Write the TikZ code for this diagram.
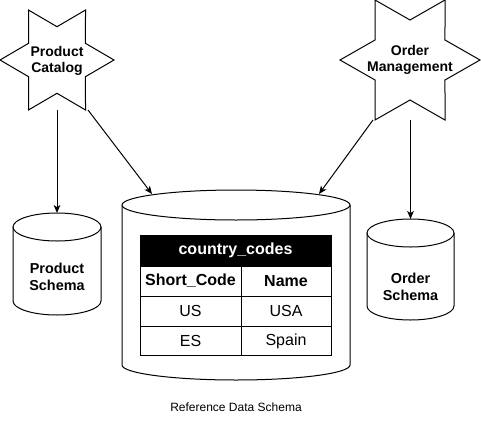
\documentclass[tikz,border=0pt]{standalone}
\usepackage{fontspec}
\setmainfont{Liberation Sans}
\usetikzlibrary{arrows.meta}
\tikzset{
  px/.style={x=0.75pt,y=-0.75pt},
  shapeline/.style={draw=black,line width=0.75pt,line join=miter},
  conn/.style={draw=black,line width=0.75pt,-{Stealth[length=6pt,width=5pt,inset=1.6pt]}},
  starlabel/.style={font=\fontsize{10.5}{12.6}\selectfont\bfseries,align=center,inner sep=0pt},
  dblabel/.style={font=\fontsize{10.8}{13}\selectfont\bfseries,align=center,inner sep=0pt},
  cell/.style={font=\fontsize{12}{14}\selectfont,inner sep=0pt},
  headcell/.style={font=\fontsize{12}{14}\selectfont\bfseries,inner sep=0pt},
  caption/.style={font=\fontsize{9}{11}\selectfont,inner sep=0pt}
}
\begin{document}
\begin{tikzpicture}[px]
\useasboundingbox[fill=white] (0,0) rectangle (481,421);

% ---- stars ----
\draw[shapeline,fill=white,shift={(57,60)}]
  (0:57 and 57.7) -- (30:32.9 and 33.3) -- (60:57 and 57.7) -- (90:32.9 and 33.3)
  -- (120:57 and 57.7) -- (150:32.9 and 33.3) -- (180:57 and 57.7) -- (210:32.9 and 33.3)
  -- (240:57 and 57.7) -- (270:32.9 and 33.3) -- (300:57 and 57.7) -- (330:32.9 and 33.3) -- cycle;
\node[starlabel] (pcat) at (57,61) {Product\\Catalog};

\draw[shapeline,fill=white,shift={(410,60)}]
  (0:70 and 69.3) -- (30:40.4 and 40) -- (60:70 and 69.3) -- (90:40.4 and 40)
  -- (120:70 and 69.3) -- (150:40.4 and 40) -- (180:70 and 69.3) -- (210:40.4 and 40)
  -- (240:70 and 69.3) -- (270:40.4 and 40) -- (300:70 and 69.3) -- (330:40.4 and 40) -- cycle;
\node[starlabel] (omgmt) at (410,60) {Order\\Management};

% ---- cylinders ----
% Product Schema
\draw[shapeline,fill=white] (13,227) -- (13,301) arc[start angle=180,end angle=0,x radius=44,y radius=14] -- (101,227);
\draw[shapeline,fill=white] (57,227) ellipse [x radius=44,y radius=14];
\node[dblabel] (pschema) at (57,277) {Product\\Schema};

% Order Schema
\draw[shapeline,fill=white] (367,233) -- (367,306) arc[start angle=180,end angle=0,x radius=43.5,y radius=14] -- (454,233);
\draw[shapeline,fill=white] (410.5,233) ellipse [x radius=43.5,y radius=14];
\node[dblabel] (oschema) at (410.5,287) {Order\\Schema};

% Reference Data Schema
\draw[shapeline,fill=white] (122,205) -- (122,365) arc[start angle=180,end angle=0,x radius=114,y radius=15] -- (350,205);
\draw[shapeline,fill=white] (236,205) ellipse [x radius=114,y radius=15];

% ---- table ----
\draw[shapeline,fill=black] (140,235) rectangle (331,266);
\node[headcell,text=white] (thead) at (235.5,250.5) {country\_codes};
\draw[shapeline] (140,266) rectangle (331,355);
\draw[shapeline] (140,296) -- (331,296);
\draw[shapeline] (140,326) -- (331,326);
\draw[shapeline] (241,266) -- (241,355);
\node[headcell] (hcode) at (190.5,281) {Short\_Code};
\node[headcell] (hname) at (286,281) {Name};
\node[cell] (c1) at (190.5,311) {US};
\node[cell] (n1) at (286,311) {USA};
\node[cell] (c2) at (190.5,341) {ES};
\node[cell] (n2) at (286,341) {Spain};

\node[caption] (cap) at (236,407) {Reference Data Schema};

% ---- connector anchors ----
\coordinate (pcatS) at (57,110);
\coordinate (pcatSE) at (88,110);
\coordinate (omS) at (410.5,120);
\coordinate (omSW) at (373,120);
\coordinate (psTop) at (57,213);
\coordinate (osTop) at (410.5,219);
\coordinate (refL) at (152,194);
\coordinate (refR) at (319,194);

\draw[conn] (pcatS) -- (psTop);
\draw[conn] (pcatSE) -- (refL);
\draw[conn] (omS) -- (osTop);
\draw[conn] (omSW) -- (refR);
\end{tikzpicture}
\end{document}
